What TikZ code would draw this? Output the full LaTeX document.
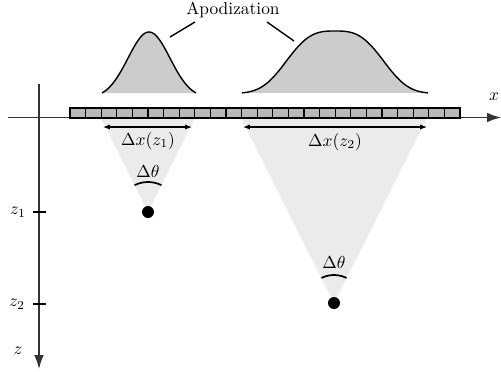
\documentclass[tikz,border=0pt]{standalone}
\usetikzlibrary{arrows.meta}
\definecolor{conefill}{HTML}{EBEBEB}
\definecolor{apofill}{HTML}{CCCCCC}
\definecolor{elemfill}{HTML}{B8B8B8}
\definecolor{axiscol}{HTML}{333333}
\tikzset{
  axisline/.style={draw=axiscol, line width=0.8pt, -{Latex[length=8pt,width=5.5pt]}},
  tickline/.style={draw=black, line width=0.8pt},
  elembox/.style={draw=black, fill=elemfill, line width=0.7pt},
  apocurve/.style={draw=black, line width=0.8pt},
  widtharrow/.style={draw=black, line width=0.6pt, {Latex[length=4pt,width=3pt]}-{Latex[length=4pt,width=3pt]}},
  anglearc/.style={draw=black, line width=1pt},
  focusdot/.style={fill=black},
  lbl/.style={inner sep=1pt}
}
\begin{document}
\begin{tikzpicture}[x=0.575pt,y=-0.575pt]
\useasboundingbox (0,0) rectangle (501,371);
% cones
\coordinate (f1) at (148,212);
\coordinate (f2) at (334,303);
\fill[conefill] (101,118) -- (f1) -- (195,118) -- cycle;
\fill[conefill] (241,118) -- (f2) -- (427,118) -- cycle;
% apodization curves
\fill[apofill] plot[domain=-47:47,samples=80] ({149+\x},{93-61*(exp(-1*pow(abs(\x)/21,2)/2)-0.0818)/0.9182}) -- cycle;
\draw[apocurve] plot[domain=-47:47,samples=80] ({149+\x},{93-61*(exp(-1*pow(abs(\x)/21,2)/2)-0.0818)/0.9182});
\fill[apofill] plot[domain=-93:93,samples=120] ({335+\x},{93-62*(exp(-1*pow(abs(\x)/56,3))-0.0085)/0.9915}) -- cycle;
\draw[apocurve] plot[domain=-93:93,samples=120] ({335+\x},{93-62*(exp(-1*pow(abs(\x)/56,3))-0.0085)/0.9915});
% label
\node[lbl] (apo) at (233,10) {Apodization};
\coordinate (a1s) at (170,37);
\coordinate (a1e) at (195,22);
\coordinate (a2s) at (267,22);
\coordinate (a2e) at (294,41);
\draw[line width=0.8pt] (a1s) -- (a1e);
\draw[line width=0.8pt] (a2s) -- (a2e);
% axes
\coordinate (xs) at (8,117.5);
\coordinate (xe) at (501,117.5);
\coordinate (zs) at (39,84);
\coordinate (ze) at (39,369);
\draw[axisline] (xs) -- (xe);
\draw[axisline] (zs) -- (ze);
\node[lbl] (xl) at (494,97) {$x$};
\node[lbl] (zl) at (18,351) {$z$};
% ticks
\coordinate (t1a) at (33,212); \coordinate (t1b) at (46,212);
\coordinate (t2a) at (33,304); \coordinate (t2b) at (46,304);
\draw[tickline] (t1a) -- (t1b);
\draw[tickline] (t2a) -- (t2b);
\node[lbl] (z1l) at (18,212) {$z_1$};
\node[lbl] (z2l) at (17,304) {$z_2$};
% array elements
\foreach \i in {0,...,24} {
  \draw[elembox] ({70+15.6*\i},108) rectangle ({70+15.6*(\i+1)},118);
}
% width arrows
\coordinate (w1a) at (103,127); \coordinate (w1b) at (192,127);
\coordinate (w2a) at (243,127); \coordinate (w2b) at (427,127);
\draw[widtharrow] (w1a) -- (w1b);
\draw[widtharrow] (w2a) -- (w2b);
\node[lbl] (dx1) at (148,141) {$\Delta x(z_1)$};
\node[lbl] (dx2) at (335,142) {$\Delta x(z_2)$};
% angle arcs
\draw[anglearc] ([shift={(243.4:30)}]f1) arc[start angle=243.4,end angle=296.6,radius=30];
\draw[anglearc] ([shift={(243.4:28)}]f2) arc[start angle=243.4,end angle=296.6,radius=28];
\node[lbl] (th1) at (148,171) {$\Delta\theta$};
\node[lbl] (th2) at (334,262) {$\Delta\theta$};
% focal dots
\fill[focusdot] (f1) circle[radius=6];
\fill[focusdot] (f2) circle[radius=6];
\end{tikzpicture}
\end{document}
